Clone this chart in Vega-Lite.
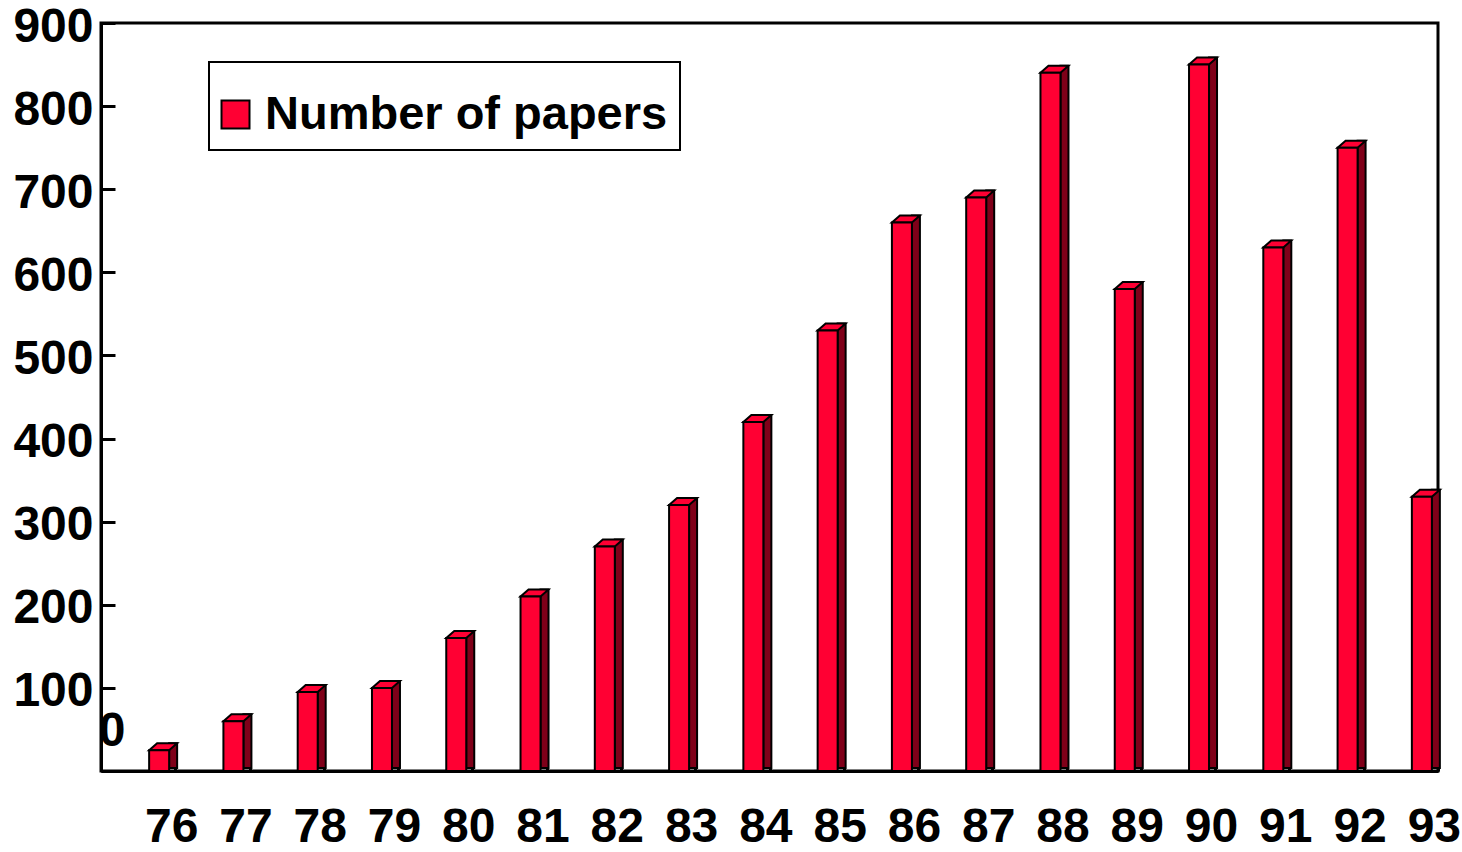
{
  "$schema": "https://vega.github.io/schema/vega-lite/v6.json",
  "autosize": {"type": "none"},
  "width": 1337,
  "height": 748,
  "padding": {"left": 101, "top": 23, "right": 24, "bottom": 81},
  "background": "white",
  "config": {
    "view": {"stroke": "black", "strokeWidth": 3},
    "font": "Liberation Sans",
    "axis": {
      "domainColor": "black",
      "domainWidth": 3,
      "tickColor": "black",
      "tickWidth": 3,
      "grid": false,
      "labelFont": "Liberation Sans",
      "labelFontWeight": "bold",
      "labelFontSize": 48,
      "labelColor": "black",
      "title": null
    },
    "legend": {
      "orient": "none",
      "legendX": 108,
      "legendY": 39,
      "strokeColor": "black",
      "strokeWidth": 2,
      "fillColor": "white",
      "padding": 12,
      "symbolType": "square",
      "symbolSize": 784,
      "symbolOffset": -9,
      "symbolStrokeColor": "black",
      "symbolStrokeWidth": 2,
      "labelFont": "Liberation Sans",
      "labelFontWeight": "bold",
      "labelFontSize": 47,
      "labelColor": "black",
      "labelOffset": 6,
      "labelLimit": 0,
      "titleFontSize": 2,
      "titlePadding": 15
    }
  },
  "data": {
    "values": [
      {"year": "76", "papers": 25, "series": "Number of papers"},
      {"year": "77", "papers": 60, "series": "Number of papers"},
      {"year": "78", "papers": 95, "series": "Number of papers"},
      {"year": "79", "papers": 100, "series": "Number of papers"},
      {"year": "80", "papers": 160, "series": "Number of papers"},
      {"year": "81", "papers": 210, "series": "Number of papers"},
      {"year": "82", "papers": 270, "series": "Number of papers"},
      {"year": "83", "papers": 320, "series": "Number of papers"},
      {"year": "84", "papers": 420, "series": "Number of papers"},
      {"year": "85", "papers": 530, "series": "Number of papers"},
      {"year": "86", "papers": 660, "series": "Number of papers"},
      {"year": "87", "papers": 690, "series": "Number of papers"},
      {"year": "88", "papers": 840, "series": "Number of papers"},
      {"year": "89", "papers": 580, "series": "Number of papers"},
      {"year": "90", "papers": 850, "series": "Number of papers"},
      {"year": "91", "papers": 630, "series": "Number of papers"},
      {"year": "92", "papers": 750, "series": "Number of papers"},
      {"year": "93", "papers": 330, "series": "Number of papers"}
    ]
  },
  "encoding": {
    "x": {
      "field": "year",
      "type": "ordinal",
      "scale": {"paddingInner": 0, "paddingOuter": 0},
      "axis": {
        "labelAngle": 0,
        "labelOffset": 33,
        "labelPadding": 43,
        "tickBand": "extent",
        "tickSize": -11
      }
    },
    "y": {
      "field": "papers",
      "type": "quantitative",
      "scale": {"domain": [0, 900], "nice": false},
      "axis": {
        "values": [0, 100, 200, 300, 400, 500, 600, 700, 800, 900],
        "tickSize": -14,
        "labelPadding": {"condition": {"test": "datum.value == 0", "value": -10}, "value": 22},
        "labelOffset": {"condition": {"test": "datum.value == 0", "value": -40}, "value": 4}
      }
    }
  },
  "layer": [
    {
      "mark": {
        "type": "bar",
        "fill": "#7f0019",
        "stroke": "black",
        "strokeWidth": 2,
        "width": 8,
        "xOffset": 35,
        "yOffset": -7,
        "y2Offset": -3
      },
      "encoding": {"y2": {"datum": 0}}
    },
    {
      "mark": {
        "type": "point",
        "shape": "M-1,0.25L-0.4286,-0.25L1,-0.25L0.4286,0.25Z",
        "size": 784,
        "filled": true,
        "fill": "#ff0033",
        "fillOpacity": 1,
        "opacity": 1,
        "stroke": "black",
        "strokeWidth": 2,
        "xOffset": 25,
        "yOffset": -3.5
      }
    },
    {
      "mark": {
        "type": "bar",
        "stroke": "black",
        "strokeWidth": 2,
        "width": 20,
        "xOffset": 21,
        "opacity": 1
      },
      "encoding": {
        "y2": {"datum": 0},
        "color": {
          "field": "series",
          "type": "nominal",
          "scale": {"range": ["#ff0033"]},
          "legend": {"title": " "}
        }
      }
    }
  ]
}
